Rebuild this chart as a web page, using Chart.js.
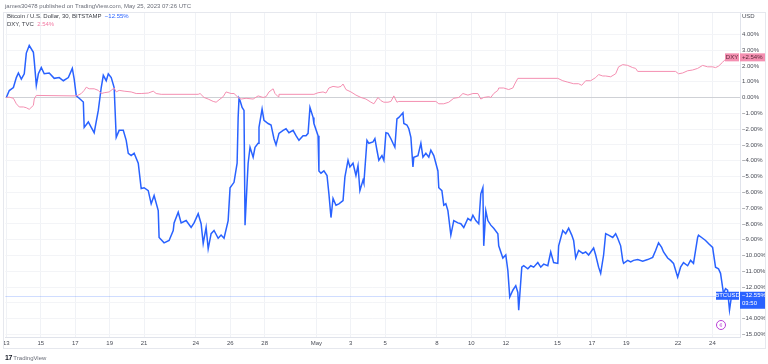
<!DOCTYPE html>
<html>
<head>
<meta charset="utf-8">
<script src="https://cdn.jsdelivr.net/npm/chart.js@4.4.0/dist/chart.umd.min.js"></script>
<style>
  body { margin: 0; background: #fff; font-family: "Liberation Sans", Arial, sans-serif; }
  #wrap { position: relative; width: 768px; height: 364px; overflow: hidden; }
  #frame { position: absolute; left: 3px; top: 12px; width: 763px; height: 337px; border: 1px solid #e6e8ee; box-sizing: border-box; pointer-events: none; }
  .txt { position: absolute; font-size: 6px; line-height: 7px; white-space: nowrap; }
  #head { left: 5px; top: 3px; color: #6a6d78; }
  #leg1 { left: 7px; top: 13px; color: #3a3d46; }
  #leg2 { left: 7px; top: 21px; color: #3a3d46; }
  #usd { left: 742px; top: 13px; color: #4a4d57; }
  #logo { left: 5px; top: 354px; color: #6a6d78; }
  #logo b { color: #131722; font-size: 7px; letter-spacing: -0.5px; }
  canvas { position: absolute; left: 0; top: 0; }
</style>
</head>
<body>
<div id="wrap">
  <canvas id="chart" width="768" height="364"></canvas>
  <div id="frame"></div>
  <div class="txt" id="head">james30478 published on TradingView.com, May 25, 2023 07:26 UTC</div>
  <div class="txt" id="leg1">Bitcoin / U.S. Dollar, 30, BITSTAMP &nbsp;<span style="color:#2962ff">−12.55%</span></div>
  <div class="txt" id="leg2">DXY, TVC &nbsp;<span style="color:#f27aa3">2.54%</span></div>
  <div class="txt" id="usd">USD</div>
  <div class="txt" id="logo"><b>17</b> TradingView</div>
</div>
<script>
// days since Apr 13 and % change
const btcDay = [0, 0.17, 0.41, 0.58, 0.70, 0.87, 1.04, 1.16, 1.33, 1.57, 1.62, 1.74, 1.86, 2.03, 2.20, 2.49, 2.78, 3.07, 3.31, 3.60,
  3.83, 3.94, 4.06, 4.23, 4.47, 4.52, 4.76, 4.93, 5.10, 5.34, 5.51, 5.63, 5.80, 5.92, 6.09, 6.26, 6.38, 6.55, 6.79, 6.96,
  7.08, 7.25, 7.42, 7.66, 7.83, 8.00, 8.24, 8.41, 8.58, 8.82, 8.87, 9.16, 9.45, 9.69, 9.74, 9.98, 10.15, 10.44, 10.73, 10.90,
  11.14, 11.31, 11.43, 11.60, 11.72, 11.89, 12.06, 12.30, 12.47, 12.64, 12.88, 12.99, 13.22, 13.40, 13.46, 13.51, 13.57, 13.69, 13.80, 13.86,
  13.98, 14.04, 14.15, 14.33, 14.44, 14.62, 14.67, 14.85, 14.96, 15.20, 15.37, 15.54, 15.66, 15.83, 16.07, 16.24, 16.41, 16.65, 16.82, 16.99,
  17.23, 17.40, 17.52, 17.63, 17.81, 17.86, 18.10, 18.15, 18.27, 18.44, 18.62, 18.73, 18.85, 18.97, 19.14, 19.31, 19.55, 19.66, 19.84, 19.95,
  20.13, 20.30, 20.42, 20.53, 20.71, 20.76, 20.94, 21.05, 21.29, 21.40, 21.52, 21.63, 21.81, 21.92, 22.04, 22.16, 22.33, 22.45, 22.56, 22.68,
  22.79, 23.03, 23.08, 23.26, 23.37, 23.49, 23.61, 23.66, 23.90, 24.07, 24.19, 24.36, 24.53, 24.65, 24.82, 25.06, 25.11, 25.29, 25.40, 25.52,
  25.64, 25.81, 25.98, 26.22, 26.39, 26.56, 26.80, 26.97, 27.09, 27.26, 27.43, 27.55, 27.67, 27.72, 27.84, 27.96, 28.13, 28.30, 28.54, 28.59,
  28.83, 29.00, 29.12, 29.23, 29.41, 29.58, 29.70, 29.75, 29.93, 30.04, 30.28, 30.45, 30.62, 30.86, 31.03, 31.20, 31.44, 31.61, 31.78, 32.02,
  32.07, 32.31, 32.48, 32.65, 32.83, 32.94, 33.06, 33.23, 33.47, 33.64, 33.81, 34.10, 34.22, 34.39, 34.51, 34.68, 34.80, 34.97, 35.21, 35.38,
  35.50, 35.67, 35.79, 35.84, 36.08, 36.25, 36.42, 36.66, 36.95, 37.24, 37.53, 37.70, 37.87, 38.05, 38.16, 38.40, 38.57, 38.74, 38.86, 38.98,
  39.15, 39.32, 39.56, 39.73, 39.90, 40.14, 40.19, 40.43, 40.60, 40.77, 41.01, 41.06, 41.18, 41.35, 41.47, 41.64, 41.76, 41.88, 41.99, 42.11];
const btcPct = [0, 0.44, 0.63, 1.26, 1.55, 1.16, 1.5, 2.81, 3.29, 2.86, 2.32, 0.77, 1.5, 1.89, 1.5, 1.55, 1.21, 1.26, 1.06, 1.26,
  1.84, 1.16, 0.1, -0.05, -0.29, -1.89, -1.55, -1.89, -2.23, -0.82, 0.63, 1.4, 1.06, 1.5, 1.26, 0.63, -2.52, -2.08, -2.08, -2.71,
  -3.53, -3.68, -3.53, -4.16, -5.76, -5.71, -5.9, -6.73, -6.2, -7.16, -8.86, -9.2, -9.05, -8.42, -7.94, -7.26, -7.94, -7.79, -8.23, -7.94,
  -7.36, -7.99, -9.24, -8.23, -9.58, -8.62, -8.42, -8.91, -8.71, -8.91, -7.79, -5.71, -5.37, -4.16, -1.26, -0.05, -0.19, -0.63, -0.82, -8.08,
  -5.42, -4.16, -3.15, -3.78, -3.15, -2.9, -1.89, -0.73, -1.45, -1.65, -1.74, -2.61, -3.0, -2.27, -2.08, -1.98, -2.23, -2.08, -2.42, -2.71,
  -2.42, -2.42, -2.27, -0.63, -1.26, -1.65, -2.42, -4.65, -4.79, -4.65, -4.94, -6.1, -7.6, -6.39, -6.82, -6.73, -6.53, -5.03, -3.97, -4.4,
  -4.16, -4.94, -4.31, -5.9, -5.23, -5.42, -2.71, -2.9, -2.81, -2.61, -3.34, -3.97, -3.68, -3.97, -2.23, -2.27, -2.61, -2.9, -3.15, -1.36,
  -1.26, -0.97, -1.65, -1.74, -1.98, -2.52, -4.4, -3.78, -3.68, -2.9, -3.78, -3.53, -3.78, -3.34, -3.68, -4.65, -5.71, -5.9, -6.82, -6.73,
  -7.16, -8.71, -7.79, -7.94, -7.99, -8.23, -7.65, -7.79, -7.45, -7.79, -7.99, -6.1, -5.71, -9.39, -7.16, -7.79, -8.08, -8.28, -8.62, -9.39,
  -10.16, -9.97, -10.94, -12.63, -12.2, -11.91, -12.34, -13.46, -10.74, -10.65, -10.84, -10.65, -10.74, -10.45, -10.74, -10.55, -10.65, -9.78, -10.45, -10.5,
  -9.39, -8.42, -8.62, -8.28, -8.71, -9.05, -10.16, -9.68, -9.87, -9.78, -9.97, -9.53, -9.97, -10.74, -11.13, -9.97, -8.62, -8.71, -8.86, -8.62,
  -8.91, -9.39, -10.31, -10.5, -10.31, -10.41, -10.31, -10.26, -10.36, -10.26, -10.12, -9.68, -9.2, -9.49, -9.78, -10.16, -10.31, -10.5, -10.94, -11.37,
  -10.74, -10.45, -10.65, -10.31, -10.5, -8.86, -8.71, -8.91, -9.05, -9.24, -9.49, -9.87, -10.74, -10.84, -11.13, -12.39, -12.1, -12.2, -13.46, -12.55];

const dxyDay = [0, 0.17, 0.41, 0.58, 0.75, 0.99, 1.16, 1.33, 1.57, 1.62, 1.74, 3.94, 4.12, 4.35, 4.52, 4.64, 4.81, 5.10, 5.34, 5.51,
  5.68, 5.97, 6.26, 6.38, 6.55, 6.84, 7.25, 7.54, 7.83, 8.24, 8.53, 8.70, 8.99, 11.14, 11.25, 11.48, 11.72, 12.01, 12.18, 12.35,
  12.59, 12.76, 13.05, 13.22, 13.46, 13.63, 13.92, 14.33, 14.62, 14.91, 15.08, 15.25, 15.49, 15.60, 15.78, 15.83, 17.86, 18.10, 18.39, 18.56,
  18.73, 18.97, 19.26, 19.43, 19.55, 19.72, 20.01, 20.30, 20.59, 20.88, 21.17, 21.34, 21.58, 21.75, 21.92, 22.16, 22.33, 22.50, 22.68, 22.79,
  24.94, 25.11, 25.40, 25.69, 25.98, 26.27, 26.51, 26.80, 27.09, 27.38, 27.55, 27.72, 28.01, 28.13, 28.30, 28.54, 28.59, 28.88, 29.17, 29.41,
  29.52, 29.70, 32.02, 32.31, 32.60, 32.94, 33.23, 33.41, 33.64, 33.93, 34.22, 34.39, 34.63, 34.80, 35.09, 35.38, 35.55, 35.79, 36.08, 36.37,
  36.54, 36.66, 38.86, 39.03, 39.27, 39.56, 39.85, 40.14, 40.43, 40.72, 41.01, 41.18, 41.35, 41.59, 41.76, 42.11];
const dxyPct = [0, 0.02, -0.05, -0.4, -0.6, -0.6, -0.65, -0.75, -0.5, -0.1, 0.13, 0.1, 0.12, 0.25, 0.45, 0.65, 0.55, 0.55, 0.45, 0.25,
  0.3, 0.35, 0.6, 0.35, 0.45, 0.4, 0.35, 0.25, 0.25, 0.28, 0.4, 0.25, 0.2, 0.2, 0.25, 0, -0.1, -0.25, -0.3, -0.15,
  0.05, 0.35, 0.25, 0.25, 0, -0.1, -0.05, -0.1, 0.1, 0, 0.05, 0.35, 0.55, 0.25, 0.05, 0.2, 0.2, 0.3, 0.35, 0.28,
  0.6, 0.7, 0.65, 0.7, 0.85, 0.5, 0.35, 0.15, 0, -0.1, -0.3, -0.4, 0, -0.2, -0.3, -0.3, -0.25, 0.1, -0.3, -0.25,
  -0.25, -0.4, -0.4, -0.3, -0.05, 0, 0.25, 0.15, 0.25, 0.25, -0.1, 0, 0.05, 0, 0.25, 0.45, 0.6, 0.6, 0.5, 0.6,
  0.85, 1.21, 1.21, 1.06, 0.97, 0.87, 0.87, 0.77, 1.06, 1.06, 1.26, 1.45, 1.36, 1.36, 1.31, 1.5, 1.94, 2.08, 2.03, 1.89,
  1.84, 1.65, 1.65, 1.5, 1.55, 1.69, 1.74, 1.84, 2.03, 1.94, 1.94, 1.89, 1.98, 2.23, 2.42, 2.54];

// x axis ticks (days since Apr 13) and their labels
const tickDays = [0, 2, 4, 6, 8, 11, 13, 15, 18, 20, 22, 25, 27, 29, 32, 34, 36, 39, 41];
const tickLabels = ['13', '15', '17', '19', '21', '24', '26', '28', 'May', '3', '5', '8', '10', '12', '15', '17', '19', '22', '24'];
const pctTicks = [-15, -14, -13, -12, -11, -10, -9, -8, -7, -6, -5, -4, -3, -2, -1, 0, 1, 2, 3, 4];

const BLUE = '#2962ff';
const PINK = '#f48fb1';

const toPoints = (xs, ys) => xs.map((x, i) => ({ x: x, y: ys[i] }));

function fmtPct(v) {
  const s = Math.abs(v).toFixed(2) + '%';
  return v < 0 ? '−' + s : s;
}

// price line and the right-hand price labels
const labelsPlugin = {
  id: 'priceLabels',
  beforeDatasetsDraw(chart) {
    const { ctx, chartArea, scales } = chart;
    const yb = scales.y.getPixelForValue(btcPct[btcPct.length - 1]);
    ctx.save();
    ctx.strokeStyle = 'rgba(41,98,255,0.22)';
    ctx.lineWidth = 1;
    ctx.beginPath();
    ctx.moveTo(chartArea.left, Math.round(yb) + 0.5);
    ctx.lineTo(chartArea.right, Math.round(yb) + 0.5);
    ctx.stroke();
    ctx.restore();
  },
  afterDraw(chart) {
    const { ctx, chartArea, scales } = chart;
    const right = chartArea.right;
    const yb = scales.y.getPixelForValue(btcPct[btcPct.length - 1]);
    const yd = scales.y.getPixelForValue(dxyPct[dxyPct.length - 1]);
    ctx.save();
    ctx.font = '6px "Liberation Sans", Arial, sans-serif';
    ctx.textBaseline = 'middle';

    // BTC
    ctx.fillStyle = BLUE;
    ctx.fillRect(right - 24, yb - 4, 23, 8);
    ctx.fillRect(right, yb - 4, 26, 17);
    ctx.fillStyle = '#fff';
    ctx.textAlign = 'center';
    ctx.fillText('BTCUSD', right - 12.5, yb);
    ctx.textAlign = 'left';
    ctx.fillText(fmtPct(btcPct[btcPct.length - 1]), right + 2, yb);
    ctx.fillText('03:50', right + 2, yb + 8);

    // DXY
    ctx.fillStyle = PINK;
    ctx.fillRect(right - 15, yd - 4, 14, 8);
    ctx.fillRect(right, yd - 4, 25, 8);
    ctx.fillStyle = '#5a2a3a';
    ctx.textAlign = 'center';
    ctx.fillText('DXY', right - 8, yd);
    ctx.textAlign = 'left';
    ctx.fillText('+' + dxyPct[dxyPct.length - 1].toFixed(2) + '%', right + 2, yd);

    // small purple badge bottom right
    ctx.strokeStyle = '#b83fd6';
    ctx.lineWidth = 1;
    ctx.beginPath();
    ctx.arc(right - 19, chartArea.bottom - 12, 4.5, 0, Math.PI * 2);
    ctx.stroke();
    ctx.fillStyle = '#b83fd6';
    ctx.textAlign = 'center';
    ctx.fillText('¢', right - 19, chartArea.bottom - 12);
    ctx.restore();
  }
};

new Chart(document.getElementById('chart'), {
  type: 'line',
  data: {
    datasets: [
      {
        label: 'DXY',
        data: toPoints(dxyDay, dxyPct),
        borderColor: PINK,
        borderWidth: 1,
        pointRadius: 0,
        tension: 0,
        fill: false
      },
      {
        label: 'BTCUSD',
        data: toPoints(btcDay, btcPct),
        borderColor: BLUE,
        borderWidth: 1.5,
        pointRadius: 0,
        tension: 0,
        fill: false
      }
    ]
  },
  options: {
    responsive: false,
    animation: false,
    layout: { padding: { top: 12, left: 4, right: 0, bottom: 0 } },
    plugins: { legend: { display: false }, tooltip: { enabled: false } },
    scales: {
      x: {
        type: 'linear',
        min: -0.06,
        max: 42.6,
        afterBuildTicks: (scale) => { scale.ticks = tickDays.map(v => ({ value: v })); },
        afterFit: (scale) => { scale.height = 27; },
        grid: { color: '#f0f2f6', drawTicks: false },
        border: { color: '#e0e3eb' },
        ticks: {
          autoSkip: false,
          maxRotation: 0,
          padding: 3,
          color: '#4a4d57',
          font: { size: 6, family: '"Liberation Sans", Arial, sans-serif' },
          callback: (value, index) => tickLabels[index]
        }
      },
      y: {
        position: 'right',
        min: -15.16,
        max: 5.41,
        afterBuildTicks: (scale) => { scale.ticks = pctTicks.map(v => ({ value: v })); },
        afterFit: (scale) => { scale.width = 28; },
        grid: {
          drawTicks: false,
          color: (c) => (c.tick && c.tick.value === 0 ? '#cfd1d6' : '#f3f4f7')
        },
        border: { color: '#e0e3eb' },
        ticks: {
          padding: 2,
          color: '#4a4d57',
          font: { size: 6, family: '"Liberation Sans", Arial, sans-serif' },
          callback: (value) => fmtPct(value)
        }
      }
    }
  },
  plugins: [labelsPlugin]
});
</script>
</body>
</html>
